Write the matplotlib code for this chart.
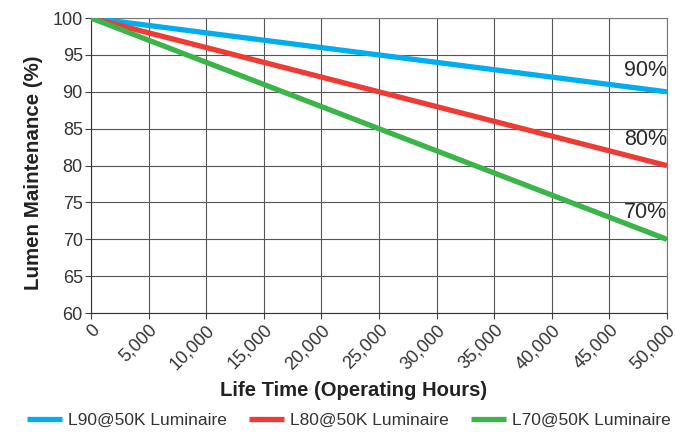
import matplotlib
matplotlib.use("Agg")
import matplotlib.pyplot as plt
import numpy as np

# datos
horas = [0, 50000]
l90 = [100, 90]
l80 = [100, 80]
l70 = [100, 70]
nombres = ["L90@50K Luminaire", "L80@50K Luminaire", "L70@50K Luminaire"]
etiquetas = ["90%", "80%", "70%"]
pos_etiq = [92.95, 83.5, 73.6]
xticks = list(range(0, 50001, 5000))
yticks = list(range(60, 101, 5))

plt.rcParams['font.family'] = ['Liberation Sans', 'DejaVu Sans']

fig = plt.figure(figsize=(6.75, 4.41), dpi=100, facecolor='w')
ax = fig.add_axes([0.135, 0.290, 0.853, 0.669])

colores = ["#00aeef", "#ee3b33", "#3bb54a"]
for serie, c, n in zip([l90, l80, l70], colores, nombres):
    ax.plot(horas, serie, color=c, lw=3.8, label=n, solid_capstyle='butt', zorder=3)

for t, yv in zip(etiquetas, pos_etiq):
    ax.text(50000, yv, t, ha='right', va='center', fontsize=15.5, color='#2a2a2a', zorder=4)

ax.set_xlim(0, 50000)
ax.set_ylim(60, 100)
ax.set_xticks(xticks)
ax.set_xticklabels(["{:,}".format(v) for v in xticks], rotation=45, ha='right',
                   rotation_mode='anchor', fontsize=13, color='#333333')
ax.set_yticks(yticks)
ax.set_yticklabels([str(v) for v in yticks], fontsize=13, color='#333333')
ax.tick_params(axis='both', length=4, width=0.8, color='#444444', pad=2)
ax.grid(True, color='#555555', lw=0.8)
for s in ax.spines.values():
    s.set_color('#777777')
    s.set_linewidth(0.8)
ax.spines['left'].set_color('#333333')
ax.spines['bottom'].set_color('#333333')

ax.set_ylabel("Lumen Maintenance (%)", fontsize=14.8, fontweight='bold', color='#222222')
ax.yaxis.set_label_coords(-0.083, 0.475)
fig.text(354 / 675, 1 - 391 / 441, "Life Time (Operating Hours)", ha='center', va='center',
         fontsize=14.6, fontweight='bold', color='#222222')

fig.legend(loc='lower center', bbox_to_anchor=(0.517, -0.005), ncol=3, frameon=False,
           fontsize=12.5, handlelength=2.0, handletextpad=0.35, columnspacing=1.3,
           labelcolor='#333333')

fig.savefig("out.png", dpi=100)
